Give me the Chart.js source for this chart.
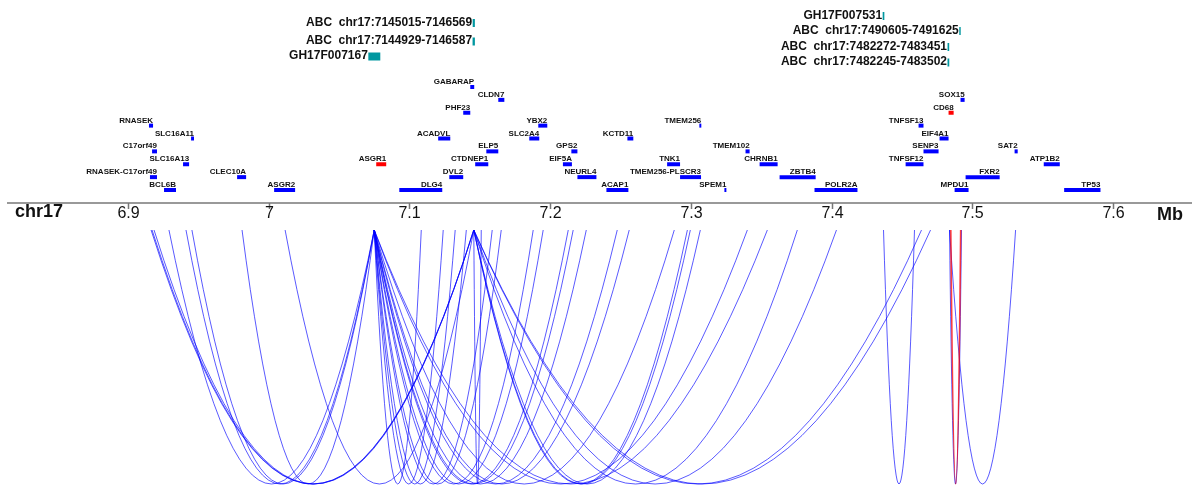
<!DOCTYPE html>
<html>
<head>
<meta charset="utf-8">
<script src="https://cdn.jsdelivr.net/npm/chart.js@4.4.1/dist/chart.umd.min.js"></script>
<style>
    html, body { margin: 0; padding: 0; background: #fff; }
    #wrap { width: 1192px; height: 489px; }
</style>
</head>
<body>
<div id="wrap"><canvas id="track" width="1192" height="489"></canvas></div>
<script>
// visible genomic window (Mb)
const X_MIN = 6.8093
const X_MAX = 7.6559

// genes: name, start / end (Mb), stacking row
const geneNames = [
    'BCL6B', 'ASGR2', 'DLG4', 'ACAP1', 'SPEM1', 'POLR2A', 'MPDU1', 'TP53',
    'RNASEK-C17orf49', 'CLEC10A', 'DVL2', 'NEURL4', 'TMEM256-PLSCR3', 'ZBTB4', 'FXR2',
    'SLC16A13', 'ASGR1', 'CTDNEP1', 'EIF5A', 'TNK1', 'CHRNB1', 'TNFSF12', 'ATP1B2',
    'C17orf49', 'ELP5', 'GPS2', 'TMEM102', 'SENP3', 'SAT2',
    'SLC16A11', 'ACADVL', 'SLC2A4', 'KCTD11', 'EIF4A1',
    'RNASEK', 'YBX2', 'TMEM256', 'TNFSF13',
    'PHF23', 'CD68',
    'CLDN7', 'SOX15',
    'GABARAP'
]
const geneStart = [
    6.9258, 7.0040, 7.0929, 7.2400, 7.3238, 7.3878, 7.4873, 7.5651,
    6.9158, 6.9777, 7.1284, 7.2194, 7.2923, 7.3630, 7.4951,
    6.9393, 7.0765, 7.1468, 7.2091, 7.2831, 7.3488, 7.4525, 7.5506,
    6.9173, 7.1547, 7.2151, 7.3388, 7.4652, 7.5299,
    6.9450, 7.1205, 7.1852, 7.2549, 7.4766,
    6.9151, 7.1916, 7.3060, 7.4617,
    7.1383, 7.4830,
    7.1632, 7.4915,
    7.1433
]
const geneEnd = [
    6.9343, 7.0189, 7.1234, 7.2556, 7.3252, 7.4183, 7.4972, 7.5909,
    6.9208, 6.9841, 7.1383, 7.2329, 7.3072, 7.3886, 7.5193,
    6.9436, 7.0836, 7.1561, 7.2155, 7.2923, 7.3616, 7.4652, 7.5620,
    6.9208, 7.1632, 7.2194, 7.3417, 7.4759, 7.5321,
    6.9471, 7.1291, 7.1923, 7.2591, 7.4830,
    6.9180, 7.1980, 7.3074, 7.4652,
    7.1433, 7.4866,
    7.1675, 7.4944,
    7.1461
]
const geneRow = [
    0, 0, 0, 0, 0, 0, 0, 0,
    1, 1, 1, 1, 1, 1, 1,
    2, 2, 2, 2, 2, 2, 2, 2,
    3, 3, 3, 3, 3, 3,
    4, 4, 4, 4, 4,
    5, 5, 5, 5,
    6, 6,
    7, 7,
    8
]
const highlightGenes = ['ASGR1', 'CD68']

// regulatory elements (ABC / GeneHancer)
const elementNames = [
    'ABC  chr17:7145015-7146569',
    'ABC  chr17:7144929-7146587',
    'GH17F007167',
    'GH17F007531',
    'ABC  chr17:7490605-7491625',
    'ABC  chr17:7482272-7483451',
    'ABC  chr17:7482245-7483502'
]
const elementStart = [7.145015, 7.144929, 7.0709, 7.4362, 7.490605, 7.482272, 7.482245]
const elementEnd = [7.146569, 7.146587, 7.0794, 7.4374, 7.491625, 7.483451, 7.483502]

// interactions (Mb)
const loopStart = [
    6.9293, 6.9414, 6.9456, 6.9812,
    7.0751, 7.0751, 7.0751, 7.0751, 7.0751, 7.0751, 7.0751, 7.0751,
    7.0751, 7.0751, 7.0751, 7.0751, 7.0751, 7.0751, 7.0751, 7.0751,
    6.9166, 6.9173, 6.9187, 7.0118,
    7.1458, 7.1458, 7.1458, 7.1458, 7.1458, 7.1458, 7.1458, 7.1458,
    7.4368, 7.4837, 7.4837
]
const loopEnd = [
    7.0751, 7.0751, 7.0751, 7.0751,
    7.1085, 7.1241, 7.1326, 7.1405, 7.1589, 7.1653, 7.1880, 7.1951,
    7.2129, 7.2164, 7.2257, 7.2477, 7.2562, 7.2882, 7.3401, 7.3543,
    7.1458, 7.1458, 7.1458, 7.1458,
    7.1511, 7.2975, 7.2996, 7.3067, 7.3756, 7.4034, 7.4638, 7.4702,
    7.4588, 7.4922, 7.5306
]
const redLoopStart = [7.4846]
const redLoopEnd = [7.4916]

// axis
const tickValues = [6.9, 7.0, 7.1, 7.2, 7.3, 7.4, 7.5, 7.6]
const tickLabels = ['6.9', '7', '7.1', '7.2', '7.3', '7.4', '7.5', '7.6']
const chromName = 'chr17'
const unitName = 'Mb'

// layout (pixel rows of the track)
const GENE_ROW0 = 190
const GENE_STEP = 12.875
const ELEMENT_ROW = [23, 41.5, 56.5, 16, 31, 47, 62.5]
const AXIS_Y = 203
const LOOP_TOP = 230
const LOOP_BOTTOM = 484

const BLUE = '#0000ff'
const RED = '#ff0000'
const TEAL = '#0097a0'
const FONT = '"Liberation Sans", Arial, sans-serif'

function geneY(row) {
    return GENE_ROW0 - row * GENE_STEP
}

var datasets = []
geneNames.forEach(function(name, i) {
    var y = geneY(geneRow[i])
    datasets.push({
        label: name,
        data: [{x: geneStart[i], y: y}, {x: geneEnd[i], y: y}],
        borderColor: highlightGenes.includes(name) ? RED : BLUE,
        borderWidth: 4,
        borderCapStyle: 'butt',
        pointRadius: 0,
        tension: 0,
    })
})
elementNames.forEach(function(name, i) {
    var y = ELEMENT_ROW[i]
    datasets.push({
        label: name,
        data: [{x: elementStart[i], y: y}, {x: elementEnd[i], y: y}],
        borderColor: TEAL,
        borderWidth: 8,
        borderCapStyle: 'butt',
        pointRadius: 0,
        tension: 0,
    })
})

function drawLoop(ctx, xs, ys, a, b) {
    var x1 = xs.getPixelForValue(a)
    var x2 = xs.getPixelForValue(b)
    var top = ys.getPixelForValue(LOOP_TOP)
    var bottom = ys.getPixelForValue(LOOP_BOTTOM)
    // parabola with vertex at the bottom, as a quadratic bezier
    ctx.beginPath()
    ctx.moveTo(x1, top)
    ctx.quadraticCurveTo((x1 + x2) / 2, 2 * bottom - top, x2, top)
    ctx.stroke()
}

const trackPlugin = {
    id: 'track',
    afterDatasetsDraw(chart) {
        var ctx = chart.ctx
        var xs = chart.scales.x
        var ys = chart.scales.y
        ctx.save()

        // loops
        ctx.lineWidth = 1
        ctx.strokeStyle = 'rgba(0, 0, 255, 0.65)'
        for (let i = 0; i < loopStart.length; i++) {
            drawLoop(ctx, xs, ys, loopStart[i], loopEnd[i])
        }
        ctx.lineWidth = 1.6
        ctx.strokeStyle = 'rgba(255, 0, 0, 0.75)'
        for (let i = 0; i < redLoopStart.length; i++) {
            drawLoop(ctx, xs, ys, redLoopStart[i], redLoopEnd[i])
        }

        // gene labels
        ctx.fillStyle = '#111'
        ctx.font = 'bold 8px ' + FONT
        ctx.textAlign = 'right'
        ctx.textBaseline = 'alphabetic'
        geneNames.forEach(function(name, i) {
            ctx.fillText(name, xs.getPixelForValue(geneEnd[i]), ys.getPixelForValue(geneY(geneRow[i]) - 3))
        })

        // element labels
        ctx.font = 'bold 12px ' + FONT
        elementNames.forEach(function(name, i) {
            ctx.fillText(name, xs.getPixelForValue(elementStart[i]) - 0.5, ys.getPixelForValue(ELEMENT_ROW[i] + 2.5))
        })

        // genome axis
        var ay = ys.getPixelForValue(AXIS_Y)
        ctx.strokeStyle = '#777'
        ctx.lineWidth = 1.5
        ctx.beginPath()
        ctx.moveTo(7, ay)
        ctx.lineTo(chart.chartArea.right, ay)
        ctx.stroke()
        ctx.font = '16px ' + FONT
        ctx.textAlign = 'center'
        tickValues.forEach(function(v, i) {
            var tx = Math.round(xs.getPixelForValue(v)) + 0.5
            ctx.beginPath()
            ctx.moveTo(tx, ay)
            ctx.lineTo(tx, ay + 6)
            ctx.stroke()
            ctx.fillStyle = '#111'
            ctx.fillText(tickLabels[i], tx, ay + 14.5)
        })
        ctx.font = 'bold 18px ' + FONT
        ctx.textAlign = 'left'
        ctx.fillText(chromName, 15, ay + 14)
        ctx.fillText(unitName, 1157, ay + 16.5)

        ctx.restore()
    }
}

new Chart(document.getElementById('track'), {
    type: 'line',
    data: {datasets: datasets},
    options: {
        responsive: false,
        animation: false,
        devicePixelRatio: 1,
        layout: {padding: 0},
        scales: {
            x: {type: 'linear', min: X_MIN, max: X_MAX, display: false},
            y: {type: 'linear', min: 0, max: 489, reverse: true, display: false},
        },
        plugins: {
            legend: {display: false},
            tooltip: {enabled: false},
        },
    },
    plugins: [trackPlugin],
})
</script>
</body>
</html>
